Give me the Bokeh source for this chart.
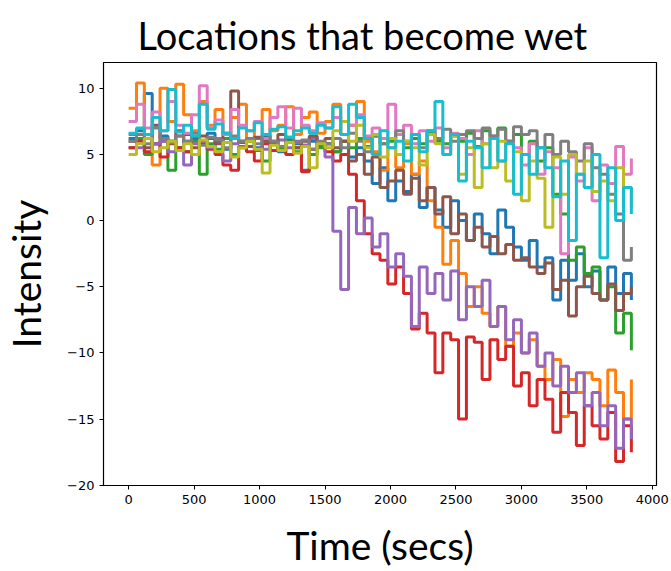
from bokeh.plotting import figure
from bokeh.models import FixedTicker, Range1d
from bokeh.embed import file_html
from bokeh.resources import INLINE

# time axis (seconds), one sample per minute
time_secs = list(range(0, 3841, 60))

loc_blue = [6.2, 6.8, 9.6, 5.8, 6.4, 6.0, 5.5, 6.5, 6.2, 5.8, 6.6, 6.0, 5.4, 6.3, 5.9,
            6.1, 5.5, 6.4, 6.0, 5.2, 6.2, 5.8, 3.8, 6.0, 5.6,
            5.8, 5.2, 6.0, 4.8, 5.5, 4.5, 2.8, 4.0, 1.5, 3.0, 2.2, 3.5, 1.0, 2.5, 0.8,
            -0.5, 1.5, 0.0, -1.5, 0.5, -1.0, -2.5, 0.8, -0.5, -2.0, -3.0, -1.5, -3.5, -2.8, -6.0,
            -3.0, -4.5, -2.5, -5.0, -3.8, -6.0, -3.5, -5.5, -4.0, -6.0]
loc_orange = [8.5, 10.4, 6.5, 4.2, 10.0, 7.5, 10.3, 8.0, 6.8, 9.0, 7.2, 8.4, 6.5, 7.8, 8.8,
              6.2, 7.5, 8.4, 6.8, 7.2, 8.6, 6.5, 7.8, 8.2, 6.6,
              7.5, 8.8, 6.5, 7.2, 9.0, 6.0, 5.2, 3.8, 5.5, 4.0, 5.8, 3.5, 4.5, 1.5, -0.5,
              -3.3, -1.5, -4.0, -6.5, -5.0, -7.0, -8.0, -6.5, -9.5, -8.5, -10.0, -9.0, -11.0, -12.0, -10.5,
              -14.8, -12.0, -13.0, -11.5, -12.0, -14.0, -11.3, -13.0, -15.0, -12.0]
loc_green = [5.5, 6.2, 5.0, 5.8, 6.0, 3.8, 5.5, 5.2, 6.0, 3.5, 5.8, 5.4, 6.2, 5.0, 5.6,
             6.0, 5.3, 4.5, 5.8, 5.5, 6.0, 5.2, 5.7, 5.0, 5.5,
             5.8, 5.2, 6.0, 5.5, 6.2, 5.6, 6.4, 5.8, 6.0, 6.5, 5.5, 6.2, 5.8, 6.6, 6.0,
             5.8, 6.4, 6.0, 6.6, 5.6, 6.8, 6.2, 7.0, 6.0, 6.5, 5.0, 6.0, 4.5, 5.5, 2.0,
             0.5, -3.0, -2.0, -4.0, -3.5, -6.0, -5.0, -8.5, -7.0, -9.8]
loc_red = [5.5, 6.0, 5.2, 5.8, 4.8, 6.0, 5.5, 5.2, 5.0, 5.8, 5.4, 5.0, 4.2, 3.8, 5.5,
           5.2, 4.5, 5.8, 5.3, 5.6, 5.0, 5.5, 3.7, 5.4, 5.8,
           5.2, 4.5, 5.0, 3.5, 1.5, -1.0, -2.5, -3.0, -4.8, -3.5, -5.5, -8.2, -7.0, -8.5, -11.5,
           -8.5, -9.0, -15.0, -8.8, -9.2, -12.0, -9.0, -10.5, -9.5, -12.5, -11.5, -14.0, -12.0, -13.5, -16.0,
           -13.0, -14.5, -17.0, -14.0, -15.5, -16.5, -14.5, -18.2, -15.5, -17.5]
loc_purple = [6.5, 5.5, 6.2, 5.8, 6.0, 5.2, 6.4, 4.2, 5.8, 6.0, 5.5, 6.2, 4.5, 5.8, 6.0,
              5.6, 6.2, 5.4, 5.9, 6.1, 5.5, 6.0, 5.7, 6.2, 5.8,
              4.8, -0.8, -5.2, 1.0, -1.0, 0.2, -2.0, -1.0, -3.5, -2.5, -4.2, -8.0, -3.5, -5.5, -4.0,
              -6.0, -3.8, -7.5, -5.0, -6.5, -4.5, -8.0, -6.5, -9.0, -7.5, -10.0, -8.5, -11.0, -10.0, -12.5,
              -11.0, -13.0, -11.5, -14.0, -13.0, -15.5, -14.0, -17.2, -15.0, -16.5]
loc_brown = [6.0, 6.5, 5.5, 7.2, 6.2, 5.8, 6.8, 6.0, 5.5, 6.4, 6.2, 5.8, 6.6, 9.8, 6.0,
             5.6, 6.3, 6.0, 5.8, 6.5, 6.2, 5.5, 6.0, 6.4, 5.8,
             6.2, 5.5, 6.0, 4.5, 5.0, 3.5, 4.8, 2.5, 3.0, 3.8, 2.0, 3.2, 1.5, 2.5, 0.5,
             1.8, -1.0, 0.5, -1.5, -0.5, -2.0, -1.2, -2.5, -1.8, -3.0, -2.8, -3.5, -4.0, -3.2, -5.2,
             -4.5, -7.2, -5.0, -4.2, -5.5, -6.0, -4.8, -6.8, -5.5, -5.0]
loc_pink = [7.5, 8.8, 7.0, 8.2, 6.8, 9.0, 7.2, 6.6, 8.0, 10.2, 7.0, 7.6, 6.5, 8.4, 7.2,
            6.8, 7.5, 6.2, 7.8, 8.6, 7.0, 8.5, 7.2, 6.8, 7.4,
            7.0, 7.8, 6.5, 7.2, 8.0, 6.4, 7.0, 6.2, 8.8, 6.5, 7.2, 5.8, 6.8, 6.0, 7.0,
            5.5, 6.6, 6.2, 5.0, 6.8, 5.8, 6.4, 4.5, 6.0, 5.5, 4.2, 5.8, 3.5, 5.2, 4.0,
            -2.5, 4.8, 3.0, 5.5, 1.5, 4.2, 2.8, 5.6, 3.5, 4.7]
loc_gray = [6.0, 6.5, 5.8, 7.0, 6.2, 5.9, 6.4, 6.0, 6.6, 5.7, 6.3, 6.1, 5.5, 6.4, 6.0,
            6.2, 5.8, 6.5, 6.0, 5.6, 6.3, 5.9, 6.1, 5.4, 6.0,
            5.8, 6.2, 5.5, 6.6, 6.0, 5.2, 6.4, 5.8, 6.2, 6.8, 6.0, 6.5, 5.5, 6.8, 6.2,
            6.9, 6.0, 6.5, 6.8, 6.2, 7.0, 6.4, 6.9, 6.0, 7.1, 6.5, 6.8, 5.5, 6.5, 5.0,
            6.0, 5.2, 4.5, 5.8, 4.0, 3.5, 2.0, 0.5, -3.0, -2.0]
loc_olive = [5.0, 5.8, 6.2, 5.2, 5.5, 6.0, 5.3, 5.8, 5.0, 6.1, 5.6, 5.2, 5.9, 4.8, 5.5,
             6.0, 5.4, 3.6, 5.7, 5.3, 5.9, 5.1, 5.6, 4.0, 5.8,
             5.5, 6.8, 7.5, 6.0, 7.2, 5.5, 6.5, 4.8, 6.2, 5.0, 6.0, 5.5, 4.2, 6.5, 5.8,
             5.0, 6.4, 3.5, 5.5, 2.5, 5.8, 4.0, 6.0, 3.0, 5.2, 1.5, 4.5, 3.2, -0.5, 4.8,
             2.0, 5.0, 3.5, 4.5, 2.2, 3.0, 1.5, 4.0, 2.5, 1.0]
loc_cyan = [6.6, 7.0, 6.5, 7.8, 6.8, 9.9, 6.7, 7.2, 6.4, 8.8, 6.9, 7.3, 6.6, 6.2, 7.0,
            6.8, 7.4, 6.5, 6.9, 7.1, 6.3, 6.8, 7.0, 6.6, 7.2,
            7.0, 8.6, 6.5, 8.8, 7.8, 6.2, 5.0, 6.8, 5.5, 6.0, 4.5, 6.5, 5.2, 6.8, 9.0,
            5.0, 6.5, 3.0, 6.0, 5.5, 4.0, 6.2, 4.5, 5.8, 2.0, 5.0, 3.5, 5.5, 4.0, 1.8,
            4.5, -1.5, 3.5, 2.5, 5.0, -2.8, 4.0, 0.0, 2.5, 0.5]

series = [loc_blue, loc_orange, loc_green, loc_red, loc_purple,
          loc_brown, loc_pink, loc_gray, loc_olive, loc_cyan]
colors = ["#1f77b4", "#ff7f0e", "#2ca02c", "#d62728", "#9467bd",
          "#8c564b", "#e377c2", "#7f7f7f", "#bcbd22", "#17becf"]

x_ticks = [0, 500, 1000, 1500, 2000, 2500, 3000, 3500, 4000]
y_ticks = [-20, -15, -10, -5, 0, 5, 10]

p = figure(width=671, height=571, output_backend="svg", toolbar_location=None,
           x_range=Range1d(-192, 4032), y_range=Range1d(-20.02, 11.95),
           min_border_left=101, min_border_right=15, min_border_top=62,
           min_border_bottom=86, background_fill_color="white",
           border_fill_color="white")

for vals, col in zip(series, colors):
    n = min(len(vals), len(time_secs))
    p.step(time_secs[:n], vals[:n], mode="after", line_color=col, line_width=3)

p.title.text = "Locations that become wet"
p.title.text_font = "Lato"
p.title.text_font_size = "38px"
p.title.text_font_style = "normal"
p.title.text_color = "black"
p.title.align = "left"
p.title.offset = 34
p.title.standoff = 10

p.xgrid.visible = False
p.ygrid.visible = False
p.outline_line_color = "black"
p.outline_line_width = 1.2

p.xaxis.ticker = FixedTicker(ticks=x_ticks)
p.yaxis.ticker = FixedTicker(ticks=y_ticks)
p.yaxis.major_label_overrides = {t: (str(t).replace("-", "\u2212")) for t in y_ticks}

for ax in (p.xaxis[0], p.yaxis[0]):
    ax.major_tick_in = 0
    ax.major_tick_out = 4
    ax.minor_tick_line_color = None
    ax.axis_line_color = "black"
    ax.major_tick_line_color = "black"
    ax.major_label_text_font = "DejaVu Sans"
    ax.major_label_text_font_size = "13px"
    ax.major_label_text_color = "black"
    ax.major_label_standoff = 5
    ax.axis_label_text_font = "Lato"
    ax.axis_label_text_font_size = "39px"
    ax.axis_label_text_font_style = "normal"
    ax.axis_label_text_color = "black"

p.yaxis.axis_label = "Intensity"
p.yaxis.axis_label_standoff = 15
p.xaxis.axis_label = "Time (secs)"
p.xaxis.axis_label_standoff = 15

open("out.html", "w").write(file_html(p, INLINE))
